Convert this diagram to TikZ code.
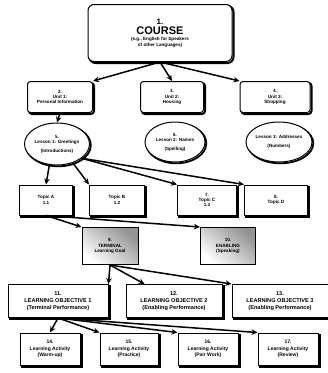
\documentclass[tikz,border=0pt]{standalone}
\usepackage{fontspec}
\setmainfont{Liberation Sans}
\usetikzlibrary{shapes.geometric,arrows.meta}
\tikzset{
  labelfont/.style={font=\bfseries\fontsize{4.6}{5.4}\selectfont},
  bigfont/.style={font=\bfseries\fontsize{5.6}{7}\selectfont},
  box/.style={draw=black, line width=1pt, rounded corners=3pt, fill=white,
    align=center, inner sep=1pt, labelfont,
    preaction={draw=black, line width=2pt, rounded corners=3pt,
      transform canvas={shift={(1.5pt,-1.5pt)}}}},
  oval/.style={draw=black, line width=1pt, ellipse, fill=white, align=center,
    inner sep=0pt, labelfont,
    preaction={draw=black, line width=1.8pt, ellipse,
      transform canvas={shift={(1.3pt,-1.3pt)}}}},
  flatbox/.style={draw=black, line width=1pt, fill=white, align=center,
    inner sep=1pt, labelfont,
    preaction={draw=black, line width=2pt,
      transform canvas={shift={(1.5pt,-1.5pt)}}}},
  shadebox/.style={draw=black, line width=1pt, align=center, inner sep=1pt,
    labelfont, shading=axis, top color=gray!85, bottom color=white,
    shading angle=-40},
  link/.style={draw=black, line width=1.5pt, -{Stealth[length=6pt,width=5.5pt]}},
}
\begin{document}
\begin{tikzpicture}[x=1pt,y=-1pt]
\useasboundingbox (0,0) rectangle (328,373);

% course at the top
\node[box, rounded corners=6pt, minimum width=144pt, minimum height=57pt] (course) at (160,33)
  {{\fontsize{8}{9}\selectfont 1.}\\[1pt]{\fontsize{11}{12}\selectfont COURSE}\\[1pt]
   (e.g., English for Speakers\\of other Languages)};

% units
\node[box, minimum width=65pt, minimum height=31pt] (u1) at (60,97) {2.\\Unit 1:\\Personal Information};
\node[box, minimum width=63pt, minimum height=31pt] (u2) at (172,97) {3.\\Unit 2:\\Housing};
\node[box, minimum width=70pt, minimum height=31pt] (u3) at (275,97) {4.\\Unit 3:\\Shopping};

% lessons
\node[oval, minimum width=65pt, minimum height=42pt] (e1) at (57,144) {5.\\Lesson 1: Greetings\\[3pt](Introductions)};
\node[oval, minimum width=60pt, minimum height=40pt] (e2) at (175,142) {6.\\Lesson 2: Names\\[3pt](Spelling)};
\node[oval, minimum width=62pt, minimum height=40pt] (e3) at (279,142) {Lesson 3: Addresses\\[3pt](Numbers)};

% topics
\node[flatbox, minimum width=53pt, minimum height=30pt] (t1) at (46,200) {Topic A\\1.1};
\node[flatbox, minimum width=55pt, minimum height=30pt] (t2) at (117,200) {Topic B\\1.2};
\node[flatbox, minimum width=59pt, minimum height=30pt] (t3) at (207,200) {7.\\Topic C\\1.3};
\node[flatbox, minimum width=63pt, minimum height=30pt] (t4) at (276,200) {8.\\Topic D};

% goals
\node[shadebox, minimum width=56pt, minimum height=37pt] (s1) at (110,246) {9.\\TERMINAL\\Learning Goal};
\node[shadebox, minimum width=55pt, minimum height=37pt] (s2) at (228,246) {10.\\ENABLING\\(Speaking)};

% objectives
\node[flatbox, bigfont, minimum width=100pt, minimum height=33pt] (o1) at (58,301) {11.\\LEARNING OBJECTIVE 1\\(Terminal Performance)};
\node[flatbox, bigfont, minimum width=96pt, minimum height=33pt] (o2) at (174,301) {12.\\LEARNING OBJECTIVE 2\\(Enabling Performance)};
\node[flatbox, bigfont, minimum width=96pt, minimum height=33pt] (o3) at (280,301) {13.\\LEARNING OBJECTIVE 3\\(Enabling Performance)};

% activities
\node[flatbox, font=\bfseries\fontsize{5}{6.5}\selectfont, minimum width=60pt, minimum height=32pt] (a1) at (50,349) {14.\\Learning Activity\\(Warm-up)};
\node[flatbox, font=\bfseries\fontsize{5}{6.5}\selectfont, minimum width=58pt, minimum height=32pt] (a2) at (129,349) {15.\\Learning Activity\\(Practice)};
\node[flatbox, font=\bfseries\fontsize{5}{6.5}\selectfont, minimum width=60pt, minimum height=32pt] (a3) at (208,349) {16.\\Learning Activity\\(Pair Work)};
\node[flatbox, font=\bfseries\fontsize{5}{6.5}\selectfont, minimum width=60pt, minimum height=32pt] (a4) at (288,349) {17.\\Learning Activity\\(Review)};

% connectors
\path[link] (course.south) -- (u1.north east);
\path[link] (course.south) -- (u2.north);
\path[link] (course.south) -- (u3.north west);
\path[link] (u1.south) -- (e1.north);
\path[link] (e1.-110) -- (t1.north);
\path[link] (e1.-50) -- (t2.north west);
\path[link] (e1.-30) -- (t3.north west);
\path[link] (e1.-30) -- (t4.north west);
\path[link] (t1.south) -- (s1.north west);
\path[link] (t1.south) -- (s2.north west);
\path[link] (s1.south) -- (o1.north east);
\path[link] (s1.south) -- (o2.150);
\path[link] (s1.south) -- (o3.north west);
\path[link] (o1.south) -- (a1.north);
\path[link] (o1.south) -- (a2.north west);
\path[link] (o1.south) -- (a3.north west);
\path[link] (o1.south) -- (a4.north west);
\end{tikzpicture}
\end{document}
